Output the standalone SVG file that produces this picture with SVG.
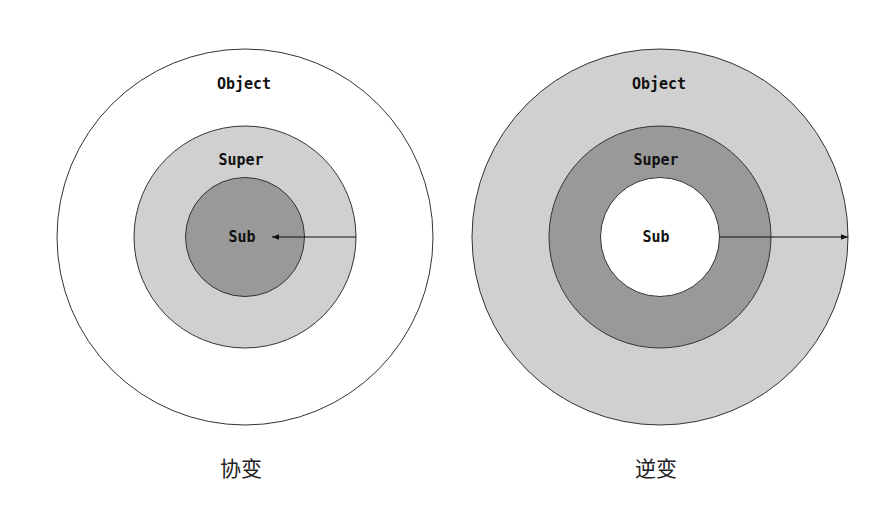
<svg xmlns="http://www.w3.org/2000/svg" width="872" height="507" viewBox="0 0 872 507">
<defs>
<style>
.c{stroke:#333;stroke-width:1}
.t{font-family:"DejaVu Sans Mono","Liberation Mono",monospace;font-weight:bold;font-size:15px;fill:#111;text-anchor:middle;dominant-baseline:central}
.cap{font-family:"Noto Sans CJK SC","Noto Sans",sans-serif;font-size:21px;fill:#222;text-anchor:middle;dominant-baseline:central}
.ln{stroke:#111;stroke-width:1;fill:none}
</style>
<marker id="ah" viewBox="0 0 10 10" refX="10" refY="5" markerWidth="7" markerHeight="7" orient="auto" markerUnits="userSpaceOnUse">
<path d="M0,1 L10,5 L0,9 z" fill="#111"/>
</marker>
</defs>
<rect width="872" height="507" fill="#fff"/>
<g id="covariance">
<g id="cov-object"><circle class="c" cx="245" cy="237" r="188" fill="#fff"/><text class="t" x="244" y="84">Object</text></g>
<g id="cov-super"><circle class="c" cx="245" cy="237" r="111" fill="#d0d0d0"/><text class="t" x="241" y="160">Super</text></g>
<g id="cov-sub"><circle class="c" cx="245" cy="237" r="59.5" fill="#999"/><text class="t" x="242" y="237">Sub</text></g>
<text class="cap" x="241" y="467">协变</text>
</g>
<g id="contravariance">
<g id="con-object"><circle class="c" cx="660" cy="237" r="188" fill="#d0d0d0"/><text class="t" x="659" y="84">Object</text></g>
<g id="con-super"><circle class="c" cx="660" cy="237" r="111" fill="#999"/><text class="t" x="656" y="160">Super</text></g>
<g id="con-sub"><circle class="c" cx="660" cy="237" r="59.5" fill="#fff"/><text class="t" x="656" y="237">Sub</text></g>
<text class="cap" x="656" y="467">逆变</text>
</g>
<g id="connectors">
<line class="ln" x1="356" y1="237" x2="272" y2="237" marker-end="url(#ah)"/>
<line class="ln" x1="720" y1="237" x2="848" y2="237" marker-end="url(#ah)"/>
</g>
</svg>
